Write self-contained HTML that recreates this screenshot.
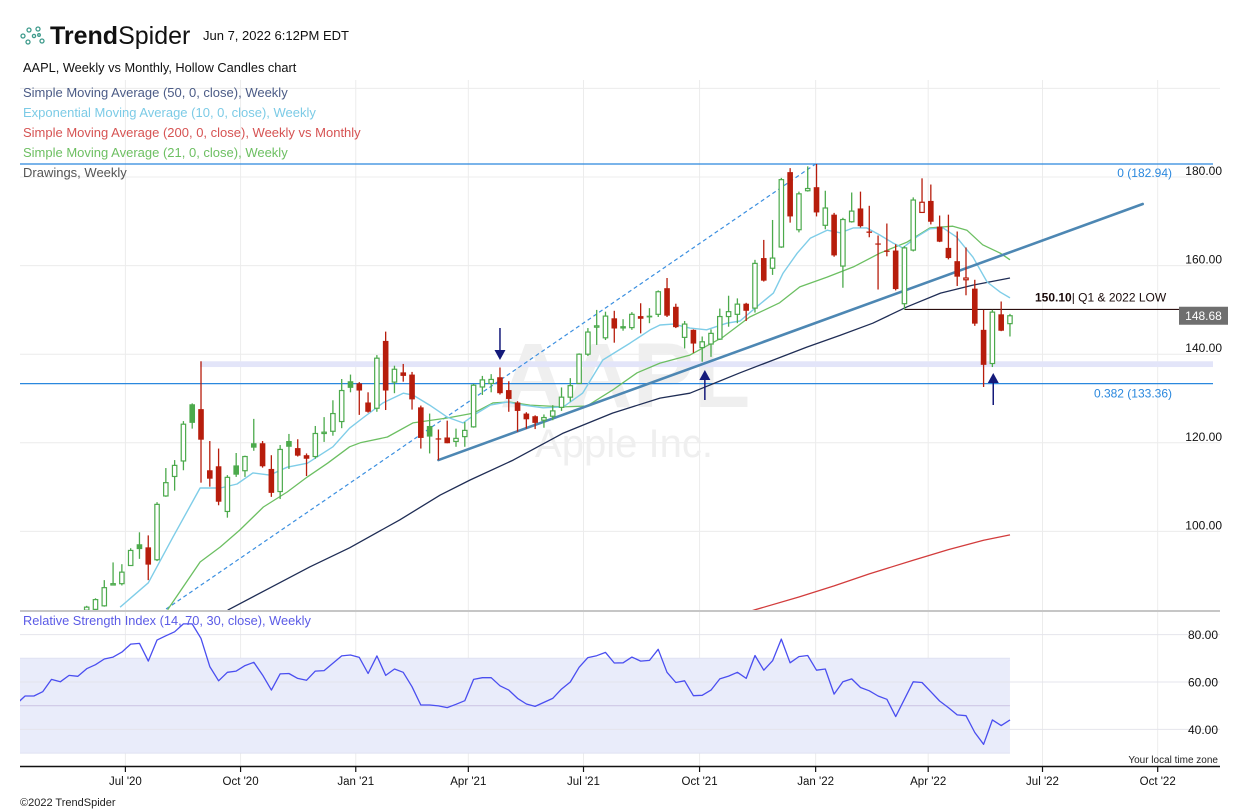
<!DOCTYPE html>
<html><head><meta charset="utf-8"><title>AAPL Weekly Hollow Candles</title>
<style>
html,body{margin:0;padding:0;background:#fff;}
svg{display:block;font-family:"Liberation Sans",Arial,sans-serif;}
</style></head>
<body>
<svg id="chart" width="1248" height="812" viewBox="0 0 1248 812" xmlns="http://www.w3.org/2000/svg">
<defs>
<clipPath id="mainClip"><rect x="20" y="80" width="1200" height="530"/></clipPath>
<clipPath id="rsiClip"><rect x="20" y="612" width="1200" height="154"/></clipPath>
</defs>
<rect x="0" y="0" width="1248" height="812" fill="#fff"/>
<g id="grid"></g>
<text x="625" y="407" font-size="92" font-weight="bold" fill="#efefef" text-anchor="middle">AAPL</text>
<text x="624" y="457" font-size="40" fill="#efefef" text-anchor="middle">Apple Inc.</text>
<g id="drawings" clip-path="url(#mainClip)"></g>
<g id="mas" clip-path="url(#mainClip)"></g>
<g id="candles" clip-path="url(#mainClip)"></g>
<g id="overlay"></g>
<g id="rsi"></g>
<g id="axes"></g>

<!-- header -->
<g fill="none" stroke="#3d9a8b" stroke-width="1.3">
<circle cx="23" cy="36" r="2"/><circle cx="29" cy="30" r="2"/><circle cx="28" cy="42" r="2"/>
<circle cx="34" cy="36" r="1.6"/><circle cx="38" cy="29" r="2"/><circle cx="42" cy="41" r="2"/><circle cx="39" cy="35" r="1.3"/>
</g>
<text x="50" y="44" font-size="25" fill="#111"><tspan font-weight="bold">Trend</tspan><tspan font-weight="normal">Spider</tspan></text>
<text x="203" y="40" font-size="13" fill="#111">Jun 7, 2022 6:12PM EDT</text>
<text x="23" y="72" font-size="12.8" fill="#111">AAPL, Weekly vs Monthly, Hollow Candles chart</text>
<text x="23" y="97" font-size="13" fill="#4b5b86">Simple Moving Average (50, 0, close), Weekly</text>
<text x="23" y="117" font-size="13" fill="#7ccbe6">Exponential Moving Average (10, 0, close), Weekly</text>
<text x="23" y="137" font-size="13" fill="#d65353">Simple Moving Average (200, 0, close), Weekly vs Monthly</text>
<text x="23" y="157" font-size="13" fill="#6dbf62">Simple Moving Average (21, 0, close), Weekly</text>
<text x="23" y="177" font-size="13" fill="#555">Drawings, Weekly</text>
<text x="23" y="625" font-size="12.8" fill="#5b5be6">Relative Strength Index (14, 70, 30, close), Weekly</text>
<text x="1218" y="763" font-size="10" fill="#222" text-anchor="end">Your local time zone</text>
<text x="20" y="806" font-size="11" fill="#222">©2022 TrendSpider</text>
</svg>
<script>
// ---------- data ----------
const firstPrevClose = 81.0;
const opens  = [82.2,82.4,83.2,87.9,88.2,92.3,97.1,96.4,93.6,108.0,112.4,115.9,128.7,127.6,113.8,114.7,104.5,114.9,113.7,119.9,119.9,114.1,109.0,120.4,118.8,117.2,116.9,122.1,122.6,124.8,133.9,133.4,129.1,127.8,143.0,133.7,135.9,135.4,128.0,123.8,121.0,121.2,120.3,121.4,123.6,132.6,133.4,134.8,131.9,129.1,126.6,126.0,125.1,126.0,128.0,130.3,133.4,140.0,146.1,143.7,148.1,146.0,146.0,148.6,148.7,149.0,154.9,150.7,143.8,145.5,141.5,142.3,143.4,148.5,149.0,151.4,150.4,161.7,159.4,164.2,181.1,168.1,176.9,177.7,169.1,171.5,159.9,169.9,172.9,167.7,165.0,163.4,163.4,151.4,163.5,172.0,174.6,168.8,164.0,161.0,156.8,154.8,145.5,137.9,149.0,146.9];
const highs  = [83.2,84.9,89.0,93.0,92.6,96.2,99.8,99.1,106.6,114.3,116.1,124.9,128.9,138.4,120.4,118.7,112.7,117.7,117.1,125.4,120.4,117.2,119.5,122.0,120.8,117.6,123.8,125.8,129.6,134.4,135.4,133.7,131.4,139.8,145.1,137.4,137.8,136.0,128.4,126.6,123.0,125.0,123.2,124.7,133.3,135.1,135.5,137.0,133.9,129.4,126.9,126.2,126.4,128.5,132.5,134.6,140.2,145.9,150.0,149.6,149.8,147.9,149.5,151.5,150.4,154.4,157.2,151.4,147.5,145.6,144.0,145.6,150.3,153.2,152.6,151.6,161.3,165.8,170.3,179.8,182.0,176.7,182.4,182.94,176.9,171.9,170.8,176.5,176.7,173.5,166.8,169.5,164.8,164.4,175.4,179.7,178.3,171.3,171.5,167.7,164.1,156.8,150.0,150.0,151.9,149.1];
const lows   = [81.9,82.2,83.0,87.8,87.8,92.2,93.8,89.0,93.3,107.8,109.2,113.8,123.2,111.0,110.1,105.9,103.1,112.3,112.3,118.2,114.4,107.8,107.3,114.1,116.9,112.5,116.4,120.2,121.6,123.3,131.4,126.3,126.8,127.0,127.4,131.2,133.8,127.5,118.7,117.6,116.1,119.9,119.1,119.1,123.4,130.8,131.4,130.9,127.0,122.5,123.2,123.1,123.4,125.1,127.2,129.3,133.3,139.6,142.1,143.2,142.6,145.3,145.5,144.7,147.0,148.4,148.4,145.9,141.3,140.3,138.3,139.4,143.2,146.2,147.0,147.5,149.4,156.4,157.9,164.0,169.7,167.5,176.7,171.1,168.2,162.0,155.0,169.7,168.6,166.4,154.6,162.1,154.4,150.1,163.2,172.0,169.3,165.3,161.4,155.4,153.3,146.4,132.6,137.1,145.2,144.0];
const closes = [82.9,84.6,87.3,88.2,90.8,95.7,96.0,92.5,106.1,111.0,114.9,124.2,124.5,120.7,111.9,106.7,112.2,112.8,116.9,118.9,114.7,108.7,118.5,119.1,117.1,116.4,122.1,122.4,126.6,131.8,132.4,131.8,127.0,139.1,131.8,136.6,135.1,129.8,121.1,121.4,120.8,119.9,121.0,122.8,133.0,134.2,134.3,131.2,129.9,127.2,125.3,124.5,125.7,127.2,130.3,132.9,140.0,145.0,146.4,148.6,145.8,146.2,149.0,148.0,148.3,154.1,148.7,146.1,146.8,142.4,142.8,144.7,148.5,149.6,151.3,149.8,160.5,156.6,161.7,179.4,171.1,176.2,177.4,172.0,173.0,162.3,170.4,172.3,168.9,167.4,164.8,163.1,154.7,164.0,174.8,174.3,169.9,165.4,161.7,157.5,157.2,146.9,137.6,149.5,145.3,148.68];

const ema10Weeks  = [3.8,7.0,9.8,12.9,15.2,17.1,18.9,20.8,22.8,25.1,28,29.9,31.4,33.7,36,37.1,39,41,42.8,44.4,45.9,47.8,49.6,51.9,54.2,56.4,58.7,61.8,64.1,65.2,66.7,68.6,70.5,72.8,74.3,76.2,78.1,79.2,80.8,82.3,84.2,85.7,87.2,88.7,90.2,91.7,92.8,94.4,95.9,97.4,98.9,100.8,102.4,103.9,105];
const ema10Values = [82.9,88.4,98.7,109.8,109.8,110.7,113.2,112.7,114.5,115.4,119.1,123.3,125.6,129,131.2,130.8,128.5,125.8,124.5,126.7,128.5,129.2,128.5,127.9,128.1,131.2,138.7,142.5,145.5,146.6,146.8,145.9,145.5,147,147.5,150.7,153.8,158.3,162.8,166.2,168,167.4,168.5,168.5,166.9,165.1,164,166.5,168.3,168.5,166.5,161.9,156.3,154,152.7];
const sma21Weeks  = [9.2,12.9,15.2,17.4,20.1,22.8,25.1,27.4,29.9,31.1,34.2,37.1,41,44,46.2,48.1,50.4,54.2,56.9,59.8,62.6,65.2,68.6,72.4,75.4,78.8,81.1,84.2,87.2,90.2,93.3,95.9,98.5,100.1,101.9,103.9,105];
const sma21Values = [82.3,93.1,96.5,100.3,105.5,108.9,112.3,115.4,119.1,120,121.3,124.5,125.6,126.7,129,129.2,128.5,128.1,128.3,131.9,135.8,138,139.8,143.9,148.4,151.6,155.2,157.4,159.7,162.8,165.3,168.5,168.9,168,164.7,162.8,161.3];
const sma50Weeks  = [14,16.1,20.8,25.4,29.9,35.6,40.2,43.6,48.5,54.2,59.8,65.2,68.6,74.3,78.1,81.9,85.7,89.4,93.3,97.1,100.8,105];
const sma50Values = [78.5,82.3,87.2,92,96.3,102.6,108.2,111.6,116.1,122.2,126.7,130.1,131.2,135.8,138.7,141.6,144.3,147,150.7,153.8,155.6,157.2];
const sma200Weeks  = [72,76,81,85,89,94,98,102,105];
const sma200Values = [79.9,82.3,85.2,87.7,90.4,93.5,95.9,98,99.2];

const rsiStartWeek = -8;
const rsiValues = [50.7,54.1,54.1,55.9,61.1,60.1,62.8,62.4,65.6,67.3,69.7,70.5,72.6,76,76.3,68.8,77.7,79.5,81.2,84.5,84.5,78.4,66.5,60.5,64.1,64.6,66.9,68.3,62.9,56.6,63.4,63.6,61.5,60.7,64.6,64.8,67.9,71,71.4,70.4,63.6,71,62.8,65.5,64.1,58,50.3,50.3,49.9,49.2,50.6,52.1,61.1,61.8,61.8,58.4,56.6,53.1,50.7,49.7,51.4,53.1,57,60,66.2,70.3,71.1,72.5,68,68.1,70.5,68.8,69.1,73.8,64.1,59.8,60.5,54.2,54.4,56.6,61.3,62.5,64.1,61.5,71.2,65,69,78.1,68.1,70.7,71.2,65,65.5,54.9,60.1,61.3,57.7,56.3,54.1,52.7,45.4,52.7,60.1,59.8,55.9,52,49.2,46.1,45.8,38.7,33.7,44,41.6,44];

const priceTicks = [200,180,160,140,120,100];
const priceTickLabels = ["","180.00","160.00","140.00","120.00","100.00"];
const rsiTicks = [80,60,40];
const rsiTickLabels = ["80.00","60.00","40.00"];
const monthTickWeeks = [4.4,17.5,30.6,43.4,56.5,69.7,82.9,95.7,108.7,121.8];
const monthTickLabels = ["Jul '20","Oct '20","Jan '21","Apr '21","Jul '21","Oct '21","Jan '22","Apr '22","Jul '22","Oct '22"];

const fibHigh = 182.94, fibLevel = 133.36, fibStartWeek = 8.9, fibStartPrice = 82.3, fibEndWeek = 82.9;
const trendStart = [40, 116.1], trendEnd = [120.1, 173.9];
const zoneTop = 138.4, zoneBottom = 137.1, zoneStartWeek = 12.9;
const lowLevel = 150.10, lowStartWeek = 93.0;
const arrowDownWeek = 47, arrowUpWeeks = [70.3, 103.1];

// ---------- scales ----------
const X = i => 86.7 + i * 8.793;
const Y = p => 177 + (180 - p) * 4.43;
const R = r => 705.7 - (r - 50) * 2.37;
const NS = "http://www.w3.org/2000/svg";
function mk(tag, attrs, parent){const e=document.createElementNS(NS,tag);for(const k in attrs)e.setAttribute(k,attrs[k]);parent.appendChild(e);return e;}
const G = id => document.getElementById(id);
const RIGHT = 1220;

// ---------- grid ----------
const grid = G('grid');
priceTicks.forEach((p,k)=>{
  const l = mk('line',{x1:20,x2:RIGHT,y1:Y(p),y2:Y(p),stroke:'#ececec','stroke-width':1},grid);
  
  
});
monthTickWeeks.forEach(w=>{
  const l = mk('line',{x1:X(w),x2:X(w),y1:80,y2:766,stroke:'#ececec','stroke-width':1},grid);
  
  
});

// ---------- drawings ----------
const dr = G('drawings');
const zone = mk('rect',{x:X(zoneStartWeek),y:Y(zoneTop),width:1213-X(zoneStartWeek),height:Y(zoneBottom)-Y(zoneTop),fill:'#e3e5f9'},dr);


const fib0 = mk('line',{x1:20,x2:1213,y1:Y(fibHigh),y2:Y(fibHigh),stroke:'#2a88de','stroke-width':1.3},dr);


const fib382 = mk('line',{x1:20,x2:1213,y1:Y(fibLevel),y2:Y(fibLevel),stroke:'#2a88de','stroke-width':1.3},dr);


{
  const sx=X(fibStartWeek), sy=Y(fibStartPrice), ex=X(fibEndWeek), ey=Y(fibHigh);
  const t=-0.3; const x0=sx+(ex-sx)*t, y0=sy+(ey-sy)*t;
  const fd = mk('line',{x1:x0,y1:y0,x2:ex,y2:ey,stroke:'#3b8fe0','stroke-width':1.2,'stroke-dasharray':'4,3'},dr);
  
  
}
const low = mk('line',{x1:X(lowStartWeek),x2:1213,y1:Y(lowLevel),y2:Y(lowLevel),stroke:'#2b0f0f','stroke-width':1.2},dr);



// ---------- moving averages ----------
const mas = G('mas');
function maLine(weeks, vals, color, w, name){
  const pts = weeks.map((wk,k)=>X(wk).toFixed(1)+','+Y(vals[k]).toFixed(1)).join(' ');
  const pl = mk('polyline',{points:pts,fill:'none',stroke:color,'stroke-width':w,'stroke-linejoin':'round'},mas);
  
  
}
maLine(sma200Weeks,sma200Values,'#d23c3c',1.3,'sma200-line');
maLine(sma50Weeks,sma50Values,'#1f2d55',1.3,'sma50-line');
maLine(sma21Weeks,sma21Values,'#6cbf62',1.3,'sma21-line');
maLine(ema10Weeks,ema10Values,'#7fcde8',1.4,'ema10-line');

const tl = mk('line',{x1:X(trendStart[0]),y1:Y(trendStart[1]),x2:X(trendEnd[0]),y2:Y(trendEnd[1]),stroke:'#4d87b3','stroke-width':2.6,'stroke-linecap':'round'},mas);



// ---------- candles ----------
const cg = G('candles');
const GREEN='#4caa4c', RED='#b71d0c';
closes.forEach((c,i)=>{
  const o=opens[i], h=highs[i], l=lows[i];
  const prev = i===0?firstPrevClose:closes[i-1];
  const col = c>=prev?GREEN:RED;
  const hollow = c>o;
  const x = X(i);
  const g = mk('g',{},cg);
  
  
  const wk = mk('line',{x1:x,x2:x,y1:Y(h),y2:Y(l),stroke:col,'stroke-width':1.3},g);
  
  
  const top=Y(Math.max(o,c)), bot=Y(Math.min(o,c));
  const hgt=Math.max(bot-top,1.2);
  const b = hollow
    ? mk('rect',{x:x-2.2,y:top,width:4.4,height:hgt,fill:'#fff',stroke:col,'stroke-width':1.2},g)
    : mk('rect',{x:x-2.8,y:top,width:5.6,height:hgt,fill:col},g);
  
  
});

// ---------- overlay annotations ----------
const ov = G('overlay');
function arrow(w, up, tipY, tailY, name){
  const x=X(w);
  const g=mk('g',{},ov);
  
  
  const s=mk('line',{x1:x,x2:x,y1:tailY,y2:up?tipY+9:tipY-9,stroke:'#141a7a','stroke-width':1.5},g);
  
  
  const d = up ? `M${x},${tipY} L${x-5.5},${tipY+10} L${x+5.5},${tipY+10} Z` : `M${x},${tipY} L${x-5.5},${tipY-10} L${x+5.5},${tipY-10} Z`;
  const hd=mk('path',{d:d,fill:'#141a7a'},g);
  
  
}
arrow(arrowDownWeek,false,360,328,'down-arrow');
arrow(arrowUpWeeks[0],true,370,400,'up-arrow-oct21');
arrow(arrowUpWeeks[1],true,373,405,'up-arrow-may22');

function txt(x,y,s,attrs,name,parent){
  const t=mk('text',Object.assign({x:x,y:y},attrs),parent||ov);
  t.textContent=s;
  
  
  return t;
}
txt(1172,Y(fibHigh)+13,'0 ('+fibHigh.toFixed(2)+')',{'font-size':12,fill:'#2a88de','text-anchor':'end'},'fib-0-label');
txt(1172,Y(fibLevel)+14,'0.382 ('+fibLevel.toFixed(2)+')',{'font-size':12,fill:'#2a88de','text-anchor':'end'},'fib-0382-label');
{
  const t=txt(1035,Y(lowLevel)-8,'',{'font-size':12,fill:'#1a0a0a'},'q1-low-label');
  const a=mk('tspan',{'font-weight':'bold'},t); a.textContent=lowLevel.toFixed(2);
  const b=mk('tspan',{},t); b.textContent='| Q1 & 2022 LOW';
}
{
  const last=closes[closes.length-1];
  const y=Y(last);
  const r=mk('rect',{x:1179,y:y-9,width:49,height:18,fill:'#6f6f6f'},ov);
  
  
  txt(1203.5,y+4.5,last.toFixed(2),{'font-size':12,fill:'#fff','text-anchor':'middle'},'last-price-label');
}

// ---------- RSI ----------
const rg = G('rsi');
const lastRsiX = X(rsiStartWeek+rsiValues.length-1);
const band = mk('rect',{x:20,y:R(70),width:lastRsiX-20,height:R(30)-R(70),fill:'#e9ecfa'},rg);


[70,30].forEach(v=>{
  const l=mk('line',{x1:20,x2:lastRsiX,y1:R(v),y2:R(v),stroke:'#dfe2f2','stroke-width':1},rg);
  
  
});
rsiTicks.forEach(v=>{
  const l=mk('line',{x1:20,x2:RIGHT,y1:R(v),y2:R(v),stroke:'#e4e4ec','stroke-width':1},rg);
  
  
});
const mid=mk('line',{x1:20,x2:lastRsiX,y1:R(50),y2:R(50),stroke:'#cfc8e6','stroke-width':1.2},rg);


{
  const pts=rsiValues.map((v,k)=>X(rsiStartWeek+k).toFixed(1)+','+R(v).toFixed(1)).join(' ');
  const g=mk('g',{'clip-path':'url(#rsiClip)'},rg);
  
  
  const pl=mk('polyline',{points:pts,fill:'none',stroke:'#4a4ef0','stroke-width':1.3,'stroke-linejoin':'round'},g);
  
  
}

// ---------- axes ----------
const ax = G('axes');
const sep=mk('line',{x1:20,x2:RIGHT,y1:611,y2:611,stroke:'#c6c6c6','stroke-width':2},ax);


const tAxis=mk('line',{x1:20,x2:RIGHT,y1:766.5,y2:766.5,stroke:'#111','stroke-width':1.5},ax);


priceTicks.forEach((p,k)=>{
  if(!priceTickLabels[k])return;
  txt(1222,Y(p)-2,priceTickLabels[k],{'font-size':12,fill:'#111','text-anchor':'end'},'price-tick-label',ax);
});
rsiTicks.forEach((v,k)=>{
  txt(1218,R(v)+4.5,rsiTickLabels[k],{'font-size':12,fill:'#111','text-anchor':'end'},'rsi-tick-label',ax);
});
monthTickWeeks.forEach((w,k)=>{
  const x=X(w);
  const t=mk('line',{x1:x,x2:x,y1:766,y2:772,stroke:'#111','stroke-width':1.2},ax);
  
  
  txt(x,785,monthTickLabels[k],{'font-size':11.5,fill:'#111','text-anchor':'middle'},'time-tick-label',ax);
});
</script>
</body></html>
